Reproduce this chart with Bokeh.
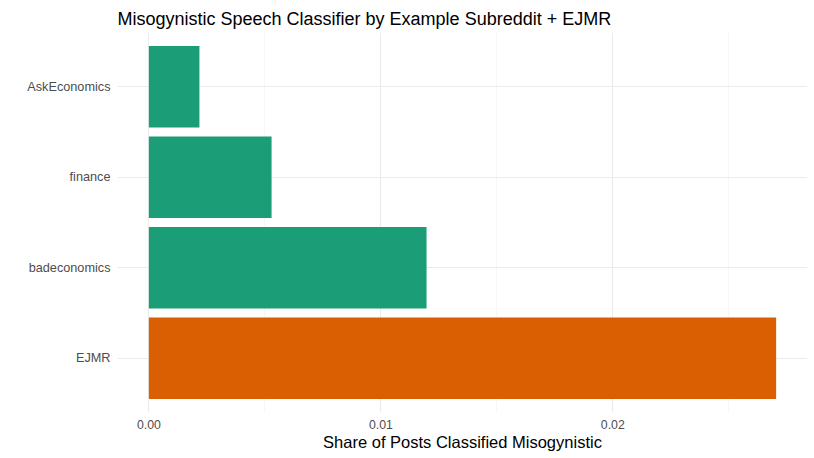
from bokeh.plotting import figure
from bokeh.models import FactorRange, Range1d, FixedTicker, NumeralTickFormatter, ColumnDataSource
from bokeh.embed import file_html
from bokeh.resources import INLINE

# data (top to bottom in the picture)
sources = ["AskEconomics", "finance", "badeconomics", "EJMR"]
share = [0.00218, 0.00529, 0.01197, 0.02704]
colors = ["#1B9E77", "#1B9E77", "#1B9E77", "#D95F02"]
x_ticks = [0.0, 0.01, 0.02]
x_minor = [0.005, 0.015, 0.025]
title_text = "Misogynistic Speech Classifier by Example Subreddit + EJMR"
x_title = "Share of Posts Classified Misogynistic"

mx = max(share)
src = ColumnDataSource(dict(source=sources, share=share, color=colors))

p = figure(
    width=814, height=458,
    y_range=FactorRange(factors=list(reversed(sources)), range_padding=0.1, range_padding_units="absolute"),
    x_range=Range1d(-0.05 * mx, 1.05 * mx),
    output_backend="svg", toolbar_location=None,
    min_border_left=117, min_border_right=7, min_border_top=32, min_border_bottom=46,
)
p.hbar(y="source", right="share", left=0, height=0.9, fill_color="color", line_color=None, source=src)

p.title.text = title_text
p.title.text_font = "Liberation Sans"
p.title.text_font_size = "18px"
p.title.text_font_style = "normal"
p.title.text_color = "#000000"
p.title.offset = 0
p.title.standoff = 8

p.outline_line_color = None
p.background_fill_color = "white"
p.border_fill_color = "white"

xa = p.xaxis[0]
xa.ticker = FixedTicker(ticks=x_ticks, minor_ticks=x_minor)
xa.formatter = NumeralTickFormatter(format="0.00")
xa.axis_label = x_title
xa.axis_label_text_font = "Liberation Sans"
xa.axis_label_text_font_size = "16.5px"
xa.axis_label_text_font_style = "normal"
xa.axis_label_text_color = "#000000"
xa.axis_label_standoff = 1
xa.major_label_text_font = "Liberation Sans"
xa.major_label_text_font_size = "12.3px"
xa.major_label_text_color = "#4D4D4D"
xa.major_label_standoff = 7
xa.axis_line_color = None
xa.major_tick_line_color = None
xa.minor_tick_line_color = None
xa.major_tick_out = 0
xa.major_tick_in = 0
xa.minor_tick_out = 0
xa.minor_tick_in = 0

ya = p.yaxis[0]
ya.major_label_text_font = "Liberation Sans"
ya.major_label_text_font_size = "12.7px"
ya.major_label_text_color = "#4D4D4D"
ya.major_label_standoff = 7
ya.axis_line_color = None
ya.major_tick_line_color = None
ya.minor_tick_line_color = None
ya.major_tick_out = 0
ya.major_tick_in = 0

p.xgrid.grid_line_color = "#EBEBEB"
p.xgrid.grid_line_width = 1.1
p.xgrid.minor_grid_line_color = "#F2F2F2"
p.xgrid.minor_grid_line_width = 0.6
p.ygrid.grid_line_color = "#EBEBEB"
p.ygrid.grid_line_width = 1.1

open("out.html", "w").write(file_html(p, INLINE))
